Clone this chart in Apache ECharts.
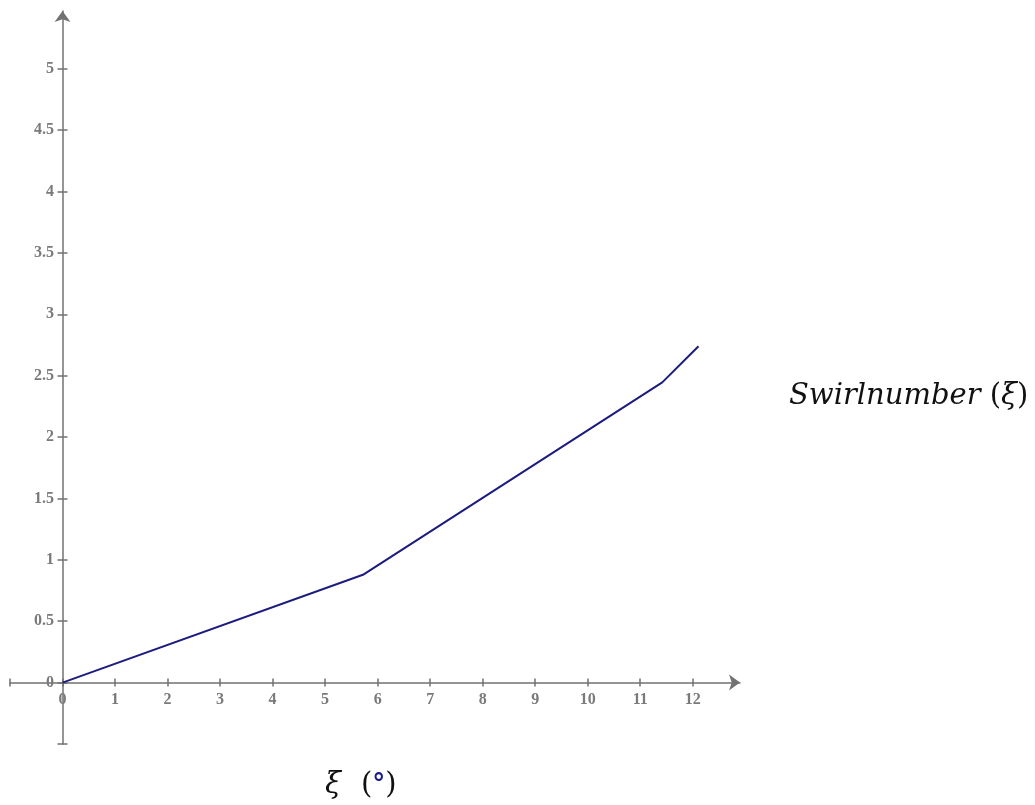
<!DOCTYPE html>
<html>
<head>
<meta charset="utf-8">
<script src="https://cdn.jsdelivr.net/npm/echarts@6/dist/echarts.min.js"></script>
<style>
  html, body { margin: 0; padding: 0; background: #fff; }
  #chart { width: 1035px; height: 805px; }
</style>
</head>
<body>
<div id="chart"></div>
<script>
// Swirl number as a function of the vane angle ξ (degrees)
const xiDeg = [0, 5.72, 11.42, 12.11];
const swirlNumber = [0, 0.878, 2.445, 2.74];

const xTicks = [-1, 0, 1, 2, 3, 4, 5, 6, 7, 8, 9, 10, 11, 12];
const xLabels = [0, 1, 2, 3, 4, 5, 6, 7, 8, 9, 10, 11, 12];
const yTicks = [-0.5, 0, 0.5, 1, 1.5, 2, 2.5, 3, 3.5, 4, 4.5, 5];
const yLabels = [0, 0.5, 1, 1.5, 2, 2.5, 3, 3.5, 4, 4.5, 5];

const X_MIN = -1, X_MAX = 12.9;
const Y_MIN = -0.5, Y_MAX = 5.47;

const axisGrey = '#727272';
const labelStyle = {
  fontFamily: 'Liberation Serif',
  fontWeight: 'bold',
  fontSize: 16,
  color: '#7a7a7a'
};

const chart = echarts.init(document.getElementById('chart'), null, { renderer: 'canvas' });

const points = xiDeg.map((x, i) => [x, swirlNumber[i]]);

chart.setOption({
  animation: false,
  backgroundColor: '#ffffff',
  grid: {
    left: 10, right: 295, top: 11, bottom: 61,
    containLabel: false,
    outerBoundsMode: 'none'
  },
  xAxis: [
    {
      type: 'value', min: X_MIN, max: X_MAX, position: 'bottom',
      splitLine: { show: false },
      axisLine: {
        show: true, onZero: true, onZeroAxisIndex: 0,
        lineStyle: { color: axisGrey, width: 1.5 },
        symbol: ['none', 'arrow'], symbolSize: [12, 11]
      },
      axisTick: { show: true, inside: false, length: 4, customValues: xTicks,
        lineStyle: { color: axisGrey, width: 1.5 } },
      // labels sit just under the zero line, above the lower edge of the plot box
      axisLabel: Object.assign({ show: true, margin: -52, customValues: xLabels }, labelStyle)
    },
    {
      type: 'value', min: X_MIN, max: X_MAX, position: 'bottom',
      splitLine: { show: false },
      axisLine: { show: false, onZero: true, onZeroAxisIndex: 0 },
      axisTick: { show: true, inside: true, length: 4, customValues: xTicks,
        lineStyle: { color: axisGrey, width: 1.5 } },
      axisLabel: { show: false }
    }
  ],
  yAxis: [
    {
      type: 'value', min: Y_MIN, max: Y_MAX, position: 'left',
      splitLine: { show: false },
      axisLine: {
        show: true, onZero: true, onZeroAxisIndex: 0,
        lineStyle: { color: axisGrey, width: 1.5 },
        symbol: ['none', 'arrow'], symbolSize: [12, 11]
      },
      axisTick: { show: true, inside: false, length: 5, customValues: yTicks,
        lineStyle: { color: axisGrey, width: 1.5 } },
      // labels sit just left of the zero line
      axisLabel: Object.assign({ show: true, margin: -44, customValues: yLabels }, labelStyle)
    },
    {
      type: 'value', min: Y_MIN, max: Y_MAX, position: 'left',
      splitLine: { show: false },
      axisLine: { show: false, onZero: true, onZeroAxisIndex: 0 },
      axisTick: { show: true, inside: true, length: 5, customValues: yTicks,
        lineStyle: { color: axisGrey, width: 1.5 } },
      axisLabel: { show: false }
    }
  ],
  graphic: [
    {
      type: 'text',
      left: 325,
      top: 771,
      style: {
        text: '{v|ξ}{s| }{p|(}{d|°}{p|)}',
        rich: {
          v: { fontFamily: 'DejaVu Serif', fontStyle: 'italic', fontSize: 29, fill: '#111' },
          s: { fontSize: 25, width: 20 },
          p: { fontFamily: 'DejaVu Serif', fontSize: 29, fill: '#111' },
          d: { fontFamily: 'DejaVu Sans', fontSize: 26, fill: '#1a1a8c', fontWeight: 'bold' }
        }
      }
    },
    {
      type: 'text',
      left: 789,
      top: 382,
      style: {
        text: '{i|Swirlnumber}{p| (}{i|ξ}{p|)}',
        rich: {
          i: { fontFamily: 'DejaVu Serif', fontStyle: 'italic', fontSize: 29, fill: '#111' },
          p: { fontFamily: 'DejaVu Serif', fontSize: 29, fill: '#111' }
        }
      }
    }
  ],
  series: [
    {
      type: 'line',
      xAxisIndex: 0,
      yAxisIndex: 0,
      data: points,
      showSymbol: false,
      lineStyle: { color: '#1c1c7e', width: 2 }
    }
  ]
});
</script>
</body>
</html>
